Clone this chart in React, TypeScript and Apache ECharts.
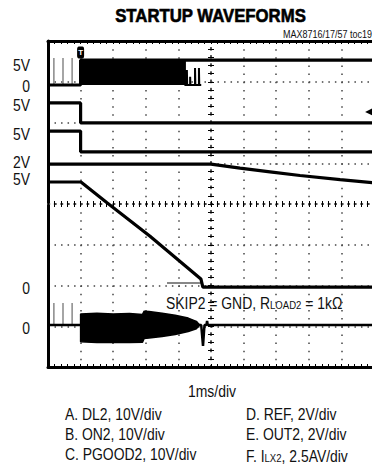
import React, { useEffect, useRef } from "react";
import * as echarts from "echarts";

// Screen coordinates in graticule divisions: x = -5..5 (1 ms/div, trigger at -4), y = -4..4
const FONT = "'Liberation Sans', Arial, sans-serif";

const triggerDiv = -4.0;
const preTriggerSpikeX = [-4.82, -4.54, -4.26];

// A. DL2
const dl2Low = 2.92;
const dl2SpikeTop = 3.58;
const dl2Trace = [[-5, 2.92], [-4.0, 2.92], [-4.0, 3.53], [5, 3.53]];
const dl2Switching = [
  [-4.0, 3.53], [-0.8, 3.53], [-0.8, 2.92], [-0.74, 2.92], [-0.74, 3.29], [-0.73, 2.92],
  [-0.64, 2.92], [-0.64, 3.12], [-0.63, 2.92], [-0.49, 2.92], [-0.49, 3.34], [-0.48, 2.92],
  [-0.37, 2.92], [-0.37, 3.34], [-0.36, 2.92], [-0.3, 2.92],
];
// B. ON2
const on2Trace = [[-5, 2.48], [-4.0, 2.48], [-4.0, 1.99], [5, 1.99]];
// C. PGOOD2
const pgood2Trace = [[-5, 1.79], [-4.0, 1.79], [-4.0, 1.28], [5, 1.28]];
// D. REF
const refTrace = [[-5, 0.98], [0, 0.98], [0.89, 0.88], [1.81, 0.79], [2.73, 0.7], [3.96, 0.6], [5, 0.52]];
// E. OUT2
const out2Trace = [[-5, 0.54], [-3.99, 0.54], [-3.19, 0.03], [-1.87, -0.79], [-0.31, -1.84], [-0.25, -2.04], [5, -2.04]];
// F. ILX2
const ilxZero = -2.97;
const ilxSpikeTop = -2.43;
const ilxTrace = [
  [-5, -2.97], [-0.3, -2.97], [-0.245, -3.48], [-0.2, -2.97], [-0.14, -2.97], [-0.12, -2.87], [-0.1, -2.97], [5, -2.97],
];
const ilxUpper = [
  [-4.0, -2.97], [-4.0, -2.7], [-3.5, -2.68], [-3.0, -2.7], [-2.5, -2.69], [-2.1, -2.71], [-2.05, -2.63],
  [-1.9, -2.64], [-1.5, -2.68], [-1.1, -2.73], [-0.7, -2.8], [-0.45, -2.88], [-0.35, -2.97],
];
const ilxLower = [
  [-4.0, -2.97], [-4.0, -3.38], [-3.5, -3.4], [-3.0, -3.39], [-2.5, -3.4], [-2.1, -3.39], [-2.05, -3.3],
  [-1.9, -3.29], [-1.5, -3.25], [-1.1, -3.2], [-0.7, -3.13], [-0.45, -3.06], [-0.35, -2.97],
];

const leftLabels = [
  { text: "5V", y: 65 }, { text: "0", y: 86 }, { text: "5V", y: 105 }, { text: "5V", y: 134 },
  { text: "2V", y: 162 }, { text: "5V", y: 179 }, { text: "0", y: 288 }, { text: "0", y: 328 },
];
const legendLeft = ["A. DL2, 10V/div", "B. ON2, 10V/div", "C. PGOOD2, 10V/div"];
const legendRight = ["D. REF, 2V/div", "E. OUT2, 2V/div", "{n|F. I}{s|LX2}{n|, 2.5AV/div}"];

const spikes = (xs: number[], low: number, high: number) => {
  const out: number[][] = [];
  xs.forEach((x) => { out.push([x, low], [x, high], [x, low]); });
  return out;
};

const trace = (name: string, data: number[][], extra: any = {}) => ({
  name, type: "line", data, symbol: "none", silent: true, clip: true,
  lineStyle: { color: "#000", width: 3.2 }, ...extra,
});

const tickStyle = { color: "#000", width: 1 };
const dotV = { color: "#444", width: 1.5, type: [1.5, 6.65] };
const dotH = { color: "#444", width: 1.5, type: [1.5, 5.02] };

const xBase = { type: "value", min: -5, max: 5, interval: 1, axisLabel: { show: false } };
const yBase = { type: "value", min: -4, max: 4, interval: 1, axisLabel: { show: false } };

const textEl = (text: string, x: number, y: number, align: string, size = 16, extra: any = {}) => ({
  type: "text", x, y, scaleX: 0.87,
  style: {
    text, fontFamily: FONT, fontSize: size, fill: "#111", align, verticalAlign: "middle",
    rich: {
      n: { fontFamily: FONT, fontSize: size, lineHeight: 20, verticalAlign: "bottom", fill: "#111" },
      s: { fontFamily: FONT, fontSize: 11, lineHeight: 11, verticalAlign: "bottom", fill: "#111" },
    },
    ...extra,
  },
});

export default function App() {
  const ref = useRef<HTMLDivElement>(null);
  useEffect(() => {
    const chart = echarts.init(ref.current!, null, { renderer: "svg" });
    const option: any = {
      animation: false,
      backgroundColor: "#fff",
      textStyle: { fontFamily: FONT },
      grid: { left: 48, top: 41, width: 326, height: 326, containLabel: false, outerBoundsMode: "none" },
      xAxis: [
        { ...xBase, position: "bottom",
          axisLine: { show: true, onZero: false, lineStyle: { color: "#000", width: 3 } },
          axisTick: { show: true, inside: true, length: 3, lineStyle: tickStyle },
          minorTick: { show: true, splitNumber: 5, length: 3, lineStyle: tickStyle },
          splitLine: { show: true, lineStyle: dotV } },
        { ...xBase, position: "top",
          axisLine: { show: true, onZero: false, lineStyle: { color: "#000", width: 3 } },
          axisTick: { show: true, inside: true, length: 3, lineStyle: tickStyle },
          minorTick: { show: true, splitNumber: 5, length: 3, lineStyle: tickStyle },
          splitLine: { show: false } },
        { ...xBase, position: "bottom",
          axisLine: { show: true, onZero: true, onZeroAxisIndex: 0, lineStyle: dotH },
          axisTick: { show: true, length: 3, lineStyle: tickStyle },
          minorTick: { show: true, splitNumber: 5, length: 3, lineStyle: tickStyle },
          splitLine: { show: false } },
        { ...xBase, position: "top",
          axisLine: { show: true, onZero: true, onZeroAxisIndex: 0, lineStyle: dotH },
          axisTick: { show: true, length: 3, lineStyle: tickStyle },
          minorTick: { show: true, splitNumber: 5, length: 3, lineStyle: tickStyle },
          splitLine: { show: false } },
      ],
      yAxis: [
        { ...yBase, position: "left",
          axisLine: { show: true, onZero: false, lineStyle: { color: "#000", width: 3 } },
          axisTick: { show: false },
          splitLine: { show: true, lineStyle: dotH } },
        { ...yBase, position: "left",
          axisLine: { show: true, onZero: true, onZeroAxisIndex: 0, lineStyle: dotV },
          axisTick: { show: true, length: 3, lineStyle: tickStyle },
          minorTick: { show: true, splitNumber: 5, length: 3, lineStyle: tickStyle },
          splitLine: { show: false } },
        { ...yBase, position: "right",
          axisLine: { show: true, onZero: true, onZeroAxisIndex: 0, lineStyle: dotV },
          axisTick: { show: true, length: 3, lineStyle: tickStyle },
          minorTick: { show: true, splitNumber: 5, length: 3, lineStyle: tickStyle },
          splitLine: { show: false } },
      ],
      series: [
        trace("DL2 spikes", spikes(preTriggerSpikeX, dl2Low, dl2SpikeTop), { lineStyle: { color: "#888", width: 1.5 } }),
        trace("ILX2 spikes", spikes(preTriggerSpikeX, ilxZero, ilxSpikeTop), { lineStyle: { color: "#888", width: 1.5 } }),
        trace("DL2", dl2Trace, {
          markPoint: {
            silent: true, animation: false,
            data: [{ coord: [triggerDiv, 3.72], symbol: "roundRect", symbolSize: [7, 12],
              itemStyle: { color: "#000" },
              label: { show: true, formatter: "T", color: "#fff", fontSize: 8, fontWeight: "bold", position: "inside" } }],
          },
        }),
        trace("DL2 switching", dl2Switching, { areaStyle: { color: "#000", opacity: 1, origin: dl2Low }, lineStyle: { color: "#000", width: 2 } }),
        trace("ON2", on2Trace, {
          markPoint: {
            silent: true, animation: false,
            data: [{ coord: [4.85, 2.26], symbol: "triangle", symbolRotate: 90, symbolSize: 8, itemStyle: { color: "#000" }, label: { show: false } }],
          },
        }),
        trace("PGOOD2", pgood2Trace),
        trace("REF", refTrace),
        trace("OUT2", out2Trace),
        trace("ILX2 upper", ilxUpper, { areaStyle: { color: "#000", opacity: 1, origin: ilxZero }, lineStyle: { color: "#000", width: 1.5 } }),
        trace("ILX2 lower", ilxLower, { areaStyle: { color: "#000", opacity: 1, origin: ilxZero }, lineStyle: { color: "#000", width: 1.5 } }),
        trace("ILX2", ilxTrace, { lineStyle: { color: "#000", width: 2.5 } }),
      ],
      graphic: [
        { type: "text", x: 210.5, y: 16, scaleX: 0.93,
          style: { text: "STARTUP WAVEFORMS", fontFamily: FONT, fontSize: 18, fontWeight: "bold", fill: "#000",
            stroke: "#000", lineWidth: 0.6, align: "center", verticalAlign: "middle" } },
        { type: "text", x: 283, y: 34, scaleX: 0.9,
          style: { text: "MAX8716/17/57 toc19", fontFamily: FONT, fontSize: 10, fill: "#111", align: "left", verticalAlign: "middle" } },
        ...leftLabels.map((l) => textEl(l.text, 30, l.y, "right")),
        textEl("1ms/div", 212, 391, "center"),
        ...legendLeft.map((t, i) => textEl(t, 65, 414 + i * 20, "left")),
        ...legendRight.map((t, i) => textEl(t, 246, 414 + i * 20, "left")),
        textEl("{n|SKIP2 = GND, R}{s|LOAD2}{n| = 1kΩ}", 166, 301, "left"),
        { type: "line", shape: { x1: 167, y1: 283, x2: 202, y2: 283 }, style: { stroke: "#111", lineWidth: 1.2 } },
      ],
    };
    chart.setOption(option);
    return () => chart.dispose();
  }, []);
  return (
    <div
      ref={ref}
      style={{ position: "absolute", left: 0, top: 0, width: 372, height: 469, background: "#fff" }}
    />
  );
}
